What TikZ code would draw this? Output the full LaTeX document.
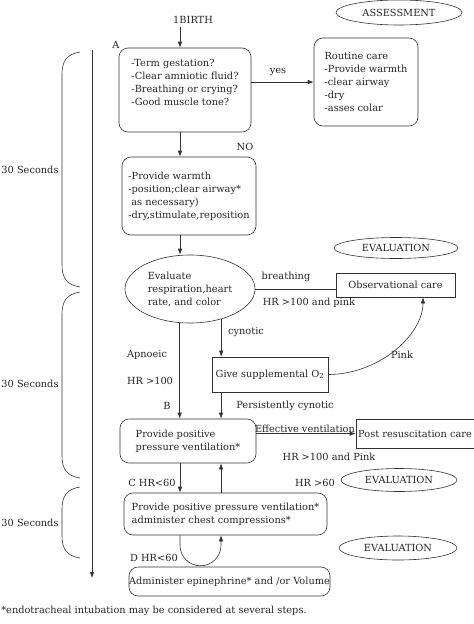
\documentclass[tikz,border=0pt]{standalone}
\usepackage{fontspec}
\setmainfont{DejaVu Serif}
\usetikzlibrary{calc,arrows.meta,shapes.geometric}
\def\secbrace(#1:#2){\draw (80,#1) .. controls (67,{#1+2}) and (62,{#1+9}) .. (62,{#1+22}) -- (62,{#2-22}) .. controls (62,{#2-9}) and (67,{#2-2}) .. (80,#2);}

\tikzset{
	every node/.style={font=\fontsize{9.8}{13}\selectfont, text=black!85},
	rbox/.style={draw, rounded corners=9pt, align=left, inner sep=0pt},
	sbox/.style={draw, align=center, inner sep=0pt},
	oval/.style={draw, ellipse, inner sep=0pt},
	lbl/.style={inner sep=0pt},
}

\begin{document}
\begin{tikzpicture}[x=1pt, y=-1pt, line width=0.6pt, draw=black!80, >={Latex[length=6pt,width=4.5pt]}]
		\useasboundingbox (0,0) rectangle (474,624);
		%%%%% START %%%%%
		
		\coordinate (colL) at (180,0);
		\coordinate (colR) at (221,0);
		
		\node[oval, minimum width=126pt, minimum height=25pt] (assess) at (399,12.5) {ASSESSMENT};
		\node[oval, minimum width=124pt, minimum height=21pt] (evala) at (396,248) {EVALUATION};
		\node[oval, minimum width=116pt, minimum height=23pt] (evalb) at (399,480) {EVALUATION};
		\node[oval, minimum width=118pt, minimum height=24pt] (evalc) at (398,548) {EVALUATION};
		
		\node[lbl] (birth) at (193,20) {1BIRTH};
		\node[lbl] (labA) at (116,45) {A};
		\node[rbox, minimum width=132pt, minimum height=84pt] (boxa) at (185,90) {-Term gestation?\\-Clear amniotic fluid?\\-Breathing or crying?\\-Good muscle tone?\\[3pt]\mbox{}};
		\node[rbox, minimum width=104pt, minimum height=88pt] (routine) at (366,82) {Routine care\\-Provide warmth\\-clear airway\\-dry\\-asses colar};
		\node[lbl] (yes) at (278,72) {yes};
		
		\node[lbl] (no) at (245,147) {NO};
		\node[rbox, minimum width=134pt, minimum height=78pt] (boxb) at (189,196) {-Provide warmth\\-position;clear airway*\\\hspace*{3pt}as necessary)\\-dry,stimulate,reposition};
		
		\node[oval, minimum width=130pt, minimum height=68pt, align=left] (eval) at (190,289) {Evaluate\\respiration,heart\\rate, and color};
		\node[sbox, minimum width=119pt, minimum height=24pt] (obs) at (395.5,285) {Observational care};
		\node[lbl] (breath) at (286,277) {breathing};
		\node[lbl] (hrpink) at (309,303) {HR >100 and pink};
		
		\node[lbl] (cyn) at (246,332) {cynotic};
		\node[sbox, minimum width=116pt, minimum height=35pt] (o2) at (270,374.5) {Give supplemental O\textsubscript{2}};
		\node[lbl] (pink) at (402,355) {Pink};
		\node[lbl] (apn) at (147,355) {Apnoeic};
		\node[lbl] (hrl) at (150,381) {HR >100};
		\node[lbl] (labB) at (167,406) {B};
		\node[lbl] (pcyn) at (285,406) {Persistently cynotic};
		
		\node[rbox, minimum width=136pt, minimum height=44pt] (ppv) at (188,441) {Provide positive\\pressure ventilation*};
		\node[sbox, minimum width=118pt, minimum height=29pt] (post) at (415,433.5) {Post resuscitation care};
		\node[lbl] (effv) at (305,429) {Effective ventilation};
		\node[lbl] (hrpinkb) at (329,457) {HR >100 and Pink};
		
		\node[lbl] (labC) at (152,483) {C HR<60};
		\node[lbl] (hrsixty) at (315,483) {HR >60};
		\node[rbox, minimum width=203pt, minimum height=42pt] (boxc) at (225.5,514) {Provide positive pressure ventilation*\\administer chest compressions*};
		\node[lbl] (labD) at (154,558) {D HR<60};
		\node[rbox, minimum width=201pt, minimum height=29pt, align=center] (epi) at (229.5,581.5) {Administer epinephrine* and /or Volume};
		
		\node[lbl, anchor=west] (note) at (1,611) {*endotracheal intubation may be considered at several steps.};
		
		% connectors
		\draw[->, shorten <=3pt] (colL |- birth.south) -- (colL |- boxa.north);
		\draw[->] (routine.west -| boxa.east) -- (routine.west);
		\draw[->] (colL |- boxa.south) -- (colL |- boxb.north);
		\draw[->] (colL |- boxb.south) -- (colL |- eval.north);
		\draw (eval.east) -- (eval.east -| obs.west);
		\draw[->] (eval.-44) -- (eval.-44 |- o2.north);
		\coordinate (obsin) at ($(obs.south west)!.73!(obs.south east)$);
		\draw[->] (o2.east) .. controls +(50,0) and +(0,38) .. (obsin);
		\draw[->] (eval.-107) -- (eval.-107 |- ppv.north);
		\draw[->] (colR |- o2.south) -- (colR |- ppv.north);
		\draw[->] (post.west -| ppv.east) -- (post.west);
		\draw[->] (colL |- ppv.south) -- (colL |- boxc.north);
		\draw[->] (colR |- boxc.north) -- (colR |- ppv.south);
		\draw[->] (colL |- boxc.south) -- ++(0,10) arc[start angle=180, end angle=0, radius=20.5] -- (colR |- boxc.south);
		
		% time line
		\coordinate (tstart) at (92,50);
		\coordinate (tend) at (92,578);
		\draw[->] (tstart) -- (tend);
		
		\secbrace(52:287)
		\secbrace(292:478)
		\secbrace(487:558)
		\node[lbl] (secA) at (30,170) {30 Seconds};
		\node[lbl] (secB) at (30,384) {30 Seconds};
		\node[lbl] (secC) at (30,523) {30 Seconds};
		
		%%%%% END %%%%%
	\end{tikzpicture}
\end{document}
